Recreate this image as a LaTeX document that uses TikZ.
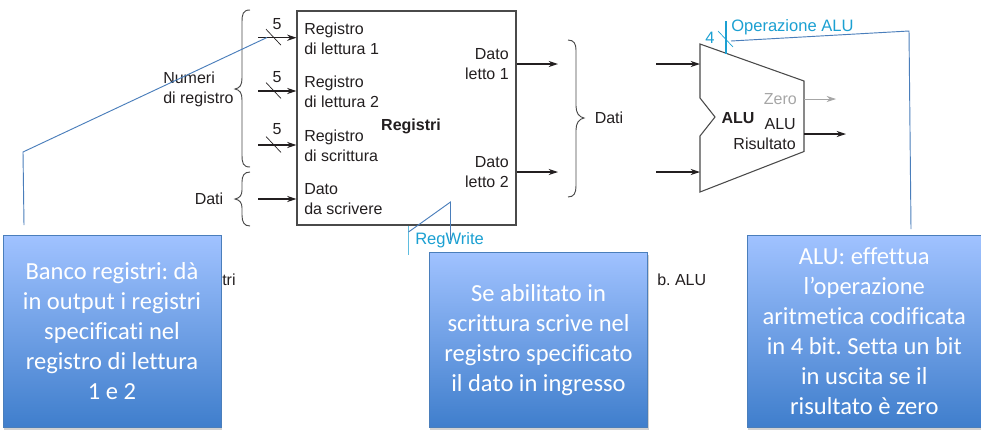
\documentclass[tikz,border=0pt]{standalone}
\usepackage{fontspec}
\setmainfont{Liberation Sans}
\newfontfamily\callfont[Ligatures=NoCommon]{Carlito}
\usetikzlibrary{arrows.meta,shadows,calc}
\definecolor{ink}{HTML}{231F20}
\definecolor{edge}{HTML}{4A4A4A}
\definecolor{cyanish}{HTML}{1BA0D2}
\definecolor{callblue}{HTML}{4A7EBB}
\definecolor{calltop}{HTML}{A0C2FF}
\definecolor{callbot}{HTML}{3F7ECC}
\tikzset{
  lbl/.style={font=\frenchspacing\fontsize{12}{15}\selectfont,text=ink,inner sep=0pt,align=left},
  lblr/.style={lbl,align=right},
  wire/.style={draw=ink,line width=0.9pt,-{Stealth[length=7pt,width=4.6pt]}},
  graywire/.style={draw=gray!70,line width=0.7pt,-{Stealth[length=7pt,width=4.6pt]}},
  slash/.style={draw=ink,line width=0.5pt},
  brace/.style={draw=edge,line width=0.7pt},
  cyanlbl/.style={font=\fontsize{12.4}{15}\selectfont,text=cyanish,inner sep=0pt},
  callout/.style={draw=callblue,line width=0.7pt,top color=calltop,bottom color=callbot,
    drop shadow={opacity=0.35,shadow xshift=0.8pt,shadow yshift=-1.8pt},
    text=white,align=center,inner sep=0pt,
    font=\callfont\frenchspacing\fontsize{18.4}{22.5}\selectfont},
  leader/.style={draw=callblue,line width=0.7pt},
}
\begin{document}
\begin{tikzpicture}[x=0.75pt,y=-0.75pt]
\useasboundingbox (0,0) rectangle (981,433);
\fill[white] (0,0) rectangle (981,433);

% register file
\node[draw=edge,line width=0.8pt,minimum width=164.25pt,minimum height=160.5pt,inner sep=0pt] (regs) at (406.5,118) {};
\node[lbl,anchor=west] (r1) at (304,38.5) {Registro\\di lettura 1};
\node[lbl,anchor=west] (r2) at (304,92) {Registro\\di lettura 2};
\node[lbl,anchor=west] (r3) at (304,145.5) {Registro\\di scrittura};
\node[lbl,anchor=west] (r4) at (304,199.5) {Dato\\da scrivere};
\node[lblr,anchor=east] (o1) at (509,64.5) {Dato\\letto 1};
\node[lblr,anchor=east] (o2) at (509,172.5) {Dato\\letto 2};
\node[lbl,anchor=center,font=\fontsize{12}{15}\selectfont\bfseries] (rname) at (411,126.5) {Registri};

% inputs
\coordinate (i1) at (258,37.7);
\coordinate (i2) at (258,91);
\coordinate (i3) at (258,145);
\coordinate (i4) at (258,199);
\draw[wire] (i1) -- (regs.west |- i1);
\draw[wire] (i2) -- (regs.west |- i2);
\draw[wire] (i3) -- (regs.west |- i3);
\draw[wire] (i4) -- (regs.west |- i4);
\foreach \n/\yy/\ly in {a/37.7/24,b/91/77,c/145/129}{
  \coordinate (s\n1) at (266,\yy-8.5);
  \coordinate (s\n2) at (281,\yy+7.5);
  \draw[slash] (s\n1) -- (s\n2);
  \node[lbl] (five\n) at (277,\ly) {5};
}

% outputs
\coordinate (d1) at (558,64);
\coordinate (d2) at (558,172);
\draw[wire] (regs.east |- d1) -- (d1);
\draw[wire] (regs.east |- d2) -- (d2);

% braces
\draw[brace] (250,10) .. controls (243,10) and (242,14) .. (242,22) -- (242,78) .. controls (242,85) and (240,88) .. (235,89)
  .. controls (240,90) and (242,93) .. (242,100) -- (242,155) .. controls (242,163) and (243,167) .. (250,167);
\draw[brace] (250,172) .. controls (244,172) and (242,176) .. (242,182) -- (242,190) .. controls (242,195) and (240,198) .. (235,199)
  .. controls (240,200) and (242,203) .. (242,208) -- (242,215) .. controls (242,222) and (244,226) .. (250,226);
\draw[brace] (568,40) .. controls (574,40) and (576,44) .. (576,50) -- (576,106) .. controls (576,113) and (579,117) .. (584,118)
  .. controls (579,119) and (576,123) .. (576,130) -- (576,186) .. controls (576,193) and (574,197) .. (568,197);
\node[lbl,anchor=west] (numeri) at (163,89.5) {Numeri\\di registro};
\node[lbl] (datiL) at (209,199) {Dati};
\node[lbl] (datiR) at (609,118) {Dati};

% ALU
\coordinate (atl) at (700,44);
\coordinate (atr) at (804,81);
\coordinate (abr) at (804,151.5);
\coordinate (abl) at (700,192);
\draw[draw=edge,line width=0.8pt] (atl) -- (atr) -- (abr) -- (abl) -- (700,136) -- (715,117) -- (700,98) -- cycle;
\node[lbl,font=\fontsize{12}{15}\selectfont\bfseries] (aluname) at (738,118.5) {ALU};
\node[lbl,anchor=east,text=gray!70] (zero) at (797,99.5) {Zero};
\node[lblr,anchor=east] (alur) at (796,134.5) {ALU\\Risultato};
\coordinate (ai1) at (656,64);
\coordinate (ai2) at (656,172);
\coordinate (az) at (836,99);
\coordinate (ao) at (846,134);
\draw[wire] (ai1) -- (700,64);
\draw[wire] (ai2) -- (700,172);
\draw[graywire] (804,99) -- (az);
\draw[wire] (804,134) -- (ao);

% control signals
\node[cyanlbl,anchor=west] (op) at (731,27.5) {Operazione ALU};
\node[cyanlbl] (four) at (710,37.5) {4};
\node[cyanlbl,anchor=west] (rw) at (415,240.5) {RegWrite};
\coordinate (optop) at (726,21);
\coordinate (opbot) at (726,54);
\draw[draw=cyanish,line width=1.2pt] (optop) -- (opbot);
\coordinate (os1) at (718,31);
\coordinate (os2) at (733,47);
\draw[draw=cyanish,line width=0.5pt] (os1) -- (os2);
\coordinate (rwt) at (408,226);
\coordinate (rwb) at (408,255);
\draw[draw=cyanish!70,line width=0.7pt] (rwt) -- (rwb);

% leftover captions
\node[lbl,anchor=west] (tri) at (222,280) {tri};
\node[lbl,anchor=west] (balu) at (657,280) {b. ALU};

% callouts
\node[callout,minimum width=163.5pt,minimum height=144.2pt] (c1) at (112,331.5)
  {Banco registri: dà\\in output i registri\\specificati nel\\registro di lettura\\1 e 2};
\node[callout,minimum width=163.8pt,minimum height=131.5pt] (c2) at (538.5,340)
  {Se abilitato in\\scrittura scrive nel\\registro specificato\\il dato in ingresso};
\node[callout,minimum width=175.5pt,minimum height=144.2pt] (c3) at (864.3,331.5)
  {ALU: effettua\\l’operazione\\aritmetica codificata\\in 4 bit. Setta un bit\\in uscita se il\\risultato è zero};

% leaders
\coordinate (l1a) at (24,225);
\coordinate (l1b) at (23,152);
\coordinate (l1c) at (267,37.5);
\coordinate (l2a) at (408.5,232);
\coordinate (l2b) at (450.5,202);
\coordinate (l2c) at (450.5,240);
\coordinate (l3a) at (731,41);
\coordinate (l3b) at (909,31);
\coordinate (l3c) at (911,229);
\draw[leader] (l1a) -- (l1b) -- (l1c);
\draw[leader] (l2a) -- (l2b) -- (l2c);
\draw[leader] (l3a) -- (l3b) -- (l3c);
\end{tikzpicture}
\end{document}
